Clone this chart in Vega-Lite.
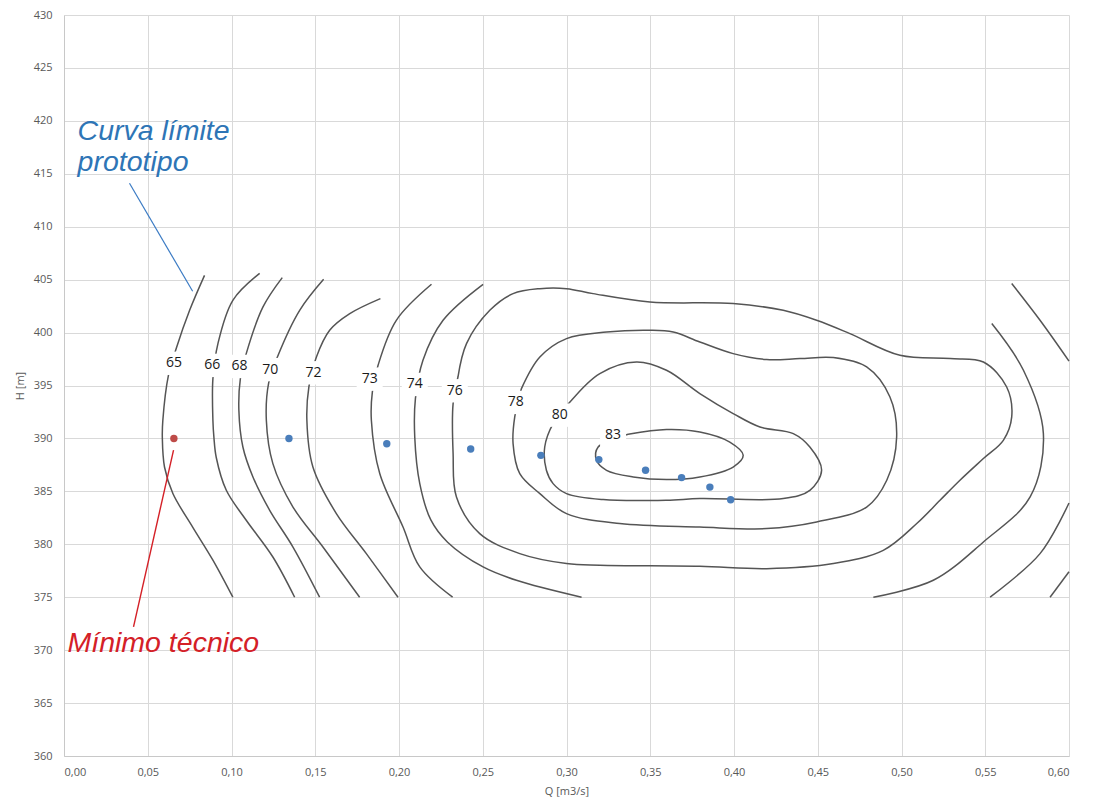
{
  "$schema": "https://vega.github.io/schema/vega-lite/v6.json",
  "width": 1005,
  "height": 741,
  "autosize": {"type": "none"},
  "padding": {"left": 64, "top": 15, "right": 27, "bottom": 47},
  "background": "white",
  "config": {
    "view": {"stroke": null},
    "axis": {
      "gridColor": "#d9d9d9",
      "gridWidth": 1,
      "domainColor": "#c8c8c8",
      "ticks": false,
      "labelColor": "#595959",
      "labelFont": "Open Sans",
      "labelFontSize": 11,
      "titleColor": "#595959",
      "titleFont": "Open Sans",
      "titleFontSize": 11,
      "titleFontWeight": "normal"
    }
  },
  "datasets": {
    "contours": [
      {"c":"65","i":0,"q":0.0839,"h":405.4},{"c":"65","i":1,"q":0.0750,"h":402.1},{"c":"65","i":2,"q":0.0670,"h":398.5},{"c":"65","i":3,"q":0.0624,"h":396.0},{"c":"65","i":4,"q":0.0590,"h":391.7},{"c":"65","i":5,"q":0.0587,"h":390.1},{"c":"65","i":6,"q":0.0600,"h":387.3},{"c":"65","i":7,"q":0.0650,"h":384.8},{"c":"65","i":8,"q":0.0769,"h":381.6},{"c":"65","i":9,"q":0.0889,"h":378.5},{"c":"65","i":10,"q":0.1008,"h":375.0},
      {"c":"66","i":0,"q":0.1168,"h":405.6},{"c":"66","i":1,"q":0.1008,"h":403.05},{"c":"66","i":2,"q":0.0919,"h":398.96},{"c":"66","i":3,"q":0.0889,"h":395.65},{"c":"66","i":4,"q":0.0889,"h":391.7},{"c":"66","i":5,"q":0.0895,"h":390.1},{"c":"66","i":6,"q":0.0909,"h":388.2},{"c":"66","i":7,"q":0.0969,"h":385.1},{"c":"66","i":8,"q":0.1088,"h":382.27},{"c":"66","i":9,"q":0.1247,"h":378.8},{"c":"66","i":10,"q":0.1377,"h":375.0},
      {"c":"68","i":0,"q":0.1303,"h":405.19},{"c":"68","i":1,"q":0.1188,"h":402.42},{"c":"68","i":2,"q":0.1088,"h":398.01},{"c":"68","i":3,"q":0.1053,"h":395.65},{"c":"68","i":4,"q":0.1044,"h":392.66},{"c":"68","i":5,"q":0.1068,"h":389.19},{"c":"68","i":6,"q":0.1128,"h":386.36},{"c":"68","i":7,"q":0.1228,"h":383.21},{"c":"68","i":8,"q":0.1367,"h":379.74},{"c":"68","i":9,"q":0.1526,"h":375.0},
      {"c":"70","i":0,"q":0.1550,"h":405.03},{"c":"70","i":1,"q":0.1407,"h":402.1},{"c":"70","i":2,"q":0.1274,"h":397.69},{"c":"70","i":3,"q":0.1222,"h":395.24},{"c":"70","i":4,"q":0.1208,"h":391.71},{"c":"70","i":5,"q":0.1247,"h":387.62},{"c":"70","i":6,"q":0.1367,"h":383.52},{"c":"70","i":7,"q":0.1546,"h":379.74},{"c":"70","i":8,"q":0.1765,"h":375.0},
      {"c":"72","i":0,"q":0.1889,"h":403.21},{"c":"72","i":1,"q":0.1706,"h":401.79},{"c":"72","i":2,"q":0.1586,"h":400.22},{"c":"72","i":3,"q":0.1507,"h":397.69},{"c":"72","i":4,"q":0.1462,"h":394.86},{"c":"72","i":5,"q":0.1450,"h":391.71},{"c":"72","i":6,"q":0.1486,"h":387.3},{"c":"72","i":7,"q":0.1626,"h":382.9},{"c":"72","i":8,"q":0.1805,"h":379.12},{"c":"72","i":9,"q":0.1994,"h":375.0},
      {"c":"73","i":0,"q":0.2194,"h":404.56},{"c":"73","i":1,"q":0.1984,"h":401.16},{"c":"73","i":2,"q":0.1875,"h":396.91},{"c":"73","i":3,"q":0.1841,"h":394.39},{"c":"73","i":4,"q":0.1835,"h":391.71},{"c":"73","i":5,"q":0.1885,"h":386.68},{"c":"73","i":6,"q":0.2024,"h":381.63},{"c":"73","i":7,"q":0.2124,"h":377.86},{"c":"73","i":8,"q":0.2320,"h":375.0},
      {"c":"74","i":0,"q":0.2502,"h":404.56},{"c":"74","i":1,"q":0.2263,"h":401.16},{"c":"74","i":2,"q":0.2143,"h":397.38},{"c":"74","i":3,"q":0.2098,"h":393.76},{"c":"74","i":4,"q":0.2094,"h":390.14},{"c":"74","i":5,"q":0.2124,"h":385.73},{"c":"74","i":6,"q":0.2190,"h":382.3},{"c":"74","i":7,"q":0.2290,"h":380.2},{"c":"74","i":8,"q":0.2502,"h":377.86},{"c":"74","i":9,"q":0.2701,"h":376.6},{"c":"74","i":10,"q":0.3090,"h":375.0},
      {"c":"76","i":0,"q":0.2352,"h":395.8},{"c":"76","i":1,"q":0.2403,"h":398.96},{"c":"76","i":2,"q":0.2542,"h":402.1},{"c":"76","i":3,"q":0.2681,"h":403.68},{"c":"76","i":4,"q":0.2841,"h":404.15},{"c":"76","i":5,"q":0.3000,"h":404.15},{"c":"76","i":6,"q":0.3159,"h":403.68},{"c":"76","i":7,"q":0.3498,"h":402.89},{"c":"76","i":8,"q":0.3995,"h":402.74},{"c":"76","i":9,"q":0.4294,"h":402.1},{"c":"76","i":10,"q":0.4493,"h":401.16},{"c":"76","i":11,"q":0.4692,"h":399.9},{"c":"76","i":12,"q":0.4991,"h":397.85},{"c":"76","i":13,"q":0.5290,"h":397.54},{"c":"76","i":14,"q":0.5489,"h":397.22},{"c":"76","i":15,"q":0.5628,"h":394.86},{"c":"76","i":16,"q":0.5658,"h":392.03},{"c":"76","i":17,"q":0.5608,"h":389.82},{"c":"76","i":18,"q":0.5489,"h":388.1},{"c":"76","i":19,"q":0.5349,"h":386.05},{"c":"76","i":20,"q":0.5230,"h":384.16},{"c":"76","i":21,"q":0.5091,"h":381.96},{"c":"76","i":22,"q":0.4891,"h":379.43},{"c":"76","i":23,"q":0.4593,"h":378.18},{"c":"76","i":24,"q":0.4195,"h":377.7},{"c":"76","i":25,"q":0.3796,"h":377.92},{"c":"76","i":26,"q":0.3199,"h":378.02},{"c":"76","i":27,"q":0.3000,"h":378.18},{"c":"76","i":28,"q":0.2721,"h":379.12},{"c":"76","i":29,"q":0.2482,"h":381.01},{"c":"76","i":30,"q":0.2343,"h":384.47},{"c":"76","i":31,"q":0.2323,"h":388.57},{"c":"76","i":32,"q":0.2323,"h":393.29},{"c":"76","i":33,"q":0.2352,"h":395.8},
      {"c":"78","i":0,"q":0.2731,"h":394.71},{"c":"78","i":1,"q":0.2841,"h":397.69},{"c":"78","i":2,"q":0.3000,"h":399.43},{"c":"78","i":3,"q":0.3239,"h":400.05},{"c":"78","i":4,"q":0.3498,"h":400.22},{"c":"78","i":5,"q":0.3637,"h":400.05},{"c":"78","i":6,"q":0.3796,"h":399.11},{"c":"78","i":7,"q":0.3995,"h":398.01},{"c":"78","i":8,"q":0.4195,"h":397.45},{"c":"78","i":9,"q":0.4394,"h":397.54},{"c":"78","i":10,"q":0.4593,"h":397.64},{"c":"78","i":11,"q":0.4792,"h":396.75},{"c":"78","i":12,"q":0.4931,"h":393.91},{"c":"78","i":13,"q":0.4971,"h":390.14},{"c":"78","i":14,"q":0.4912,"h":386.05},{"c":"78","i":15,"q":0.4792,"h":383.52},{"c":"78","i":16,"q":0.4493,"h":382.11},{"c":"78","i":17,"q":0.4195,"h":381.48},{"c":"78","i":18,"q":0.3796,"h":381.63},{"c":"78","i":19,"q":0.3318,"h":381.96},{"c":"78","i":20,"q":0.3000,"h":382.9},{"c":"78","i":21,"q":0.2841,"h":384.79},{"c":"78","i":22,"q":0.2721,"h":386.68},{"c":"78","i":23,"q":0.2681,"h":389.51},{"c":"78","i":24,"q":0.2691,"h":392.03},{"c":"78","i":25,"q":0.2731,"h":394.71},
      {"c":"80","i":0,"q":0.3030,"h":393.6},{"c":"80","i":1,"q":0.3199,"h":396.13},{"c":"80","i":2,"q":0.3418,"h":397.22},{"c":"80","i":3,"q":0.3597,"h":396.44},{"c":"80","i":4,"q":0.3796,"h":394.24},{"c":"80","i":5,"q":0.3995,"h":392.35},{"c":"80","i":6,"q":0.4155,"h":391.08},{"c":"80","i":7,"q":0.4354,"h":390.46},{"c":"80","i":8,"q":0.4453,"h":389.19},{"c":"80","i":9,"q":0.4523,"h":386.99},{"c":"80","i":10,"q":0.4453,"h":385.1},{"c":"80","i":11,"q":0.4294,"h":384.32},{"c":"80","i":12,"q":0.3796,"h":384.32},{"c":"80","i":13,"q":0.3597,"h":384.16},{"c":"80","i":14,"q":0.3219,"h":384.22},{"c":"80","i":15,"q":0.3000,"h":384.79},{"c":"80","i":16,"q":0.2920,"h":385.73},{"c":"80","i":17,"q":0.2880,"h":386.99},{"c":"80","i":18,"q":0.2870,"h":389.19},{"c":"80","i":19,"q":0.2920,"h":391.4},{"c":"80","i":20,"q":0.3030,"h":393.6},
      {"c":"83","i":0,"q":0.3368,"h":390.39},{"c":"83","i":1,"q":0.3597,"h":390.84},{"c":"83","i":2,"q":0.3796,"h":390.61},{"c":"83","i":3,"q":0.3975,"h":389.66},{"c":"83","i":4,"q":0.4055,"h":388.41},{"c":"83","i":5,"q":0.3995,"h":387.3},{"c":"83","i":6,"q":0.3796,"h":386.36},{"c":"83","i":7,"q":0.3597,"h":386.11},{"c":"83","i":8,"q":0.3398,"h":386.36},{"c":"83","i":9,"q":0.3239,"h":386.99},{"c":"83","i":10,"q":0.3179,"h":387.93},{"c":"83","i":11,"q":0.3189,"h":389.19},{"c":"83","i":12,"q":0.3368,"h":390.39},
      {"c":"R1","i":0,"q":0.5658,"h":404.63},{"c":"R1","i":1,"q":0.5827,"h":401.16},{"c":"R1","i":2,"q":0.6000,"h":397.3},
      {"c":"R2","i":0,"q":0.5539,"h":400.85},{"c":"R2","i":1,"q":0.5728,"h":396.44},{"c":"R2","i":2,"q":0.5847,"h":390.46},{"c":"R2","i":3,"q":0.5768,"h":384.47},{"c":"R2","i":4,"q":0.5489,"h":380.22},{"c":"R2","i":5,"q":0.5190,"h":376.6},{"c":"R2","i":6,"q":0.4832,"h":375.0},
      {"c":"R3","i":0,"q":0.6000,"h":383.9},{"c":"R3","i":1,"q":0.5827,"h":379.12},{"c":"R3","i":2,"q":0.5529,"h":375.0},
      {"c":"R4","i":0,"q":0.6000,"h":377.4},{"c":"R4","i":1,"q":0.5887,"h":375.0}
    ],
    "labels": [
      {"t":"65","q":0.0656,"h":397.1},{"t":"66","q":0.0885,"h":396.9},{"t":"68","q":0.1048,"h":396.8},{"t":"70","q":0.1232,"h":396.5},{"t":"72","q":0.149,"h":396.2},{"t":"73","q":0.1825,"h":395.6},{"t":"74","q":0.2094,"h":395.1},{"t":"76","q":0.2333,"h":394.5},{"t":"78","q":0.2697,"h":393.4},{"t":"80","q":0.296,"h":392.2},{"t":"83","q":0.3278,"h":390.3}
    ],
    "blue": [
      {"q":0.1343,"h":390.0},{"q":0.1927,"h":389.5},{"q":0.2428,"h":389.0},{"q":0.2847,"h":388.4},{"q":0.3193,"h":388.0},{"q":0.3472,"h":387.0},{"q":0.3687,"h":386.3},{"q":0.3856,"h":385.4},{"q":0.3980,"h":384.2}
    ],
    "red": [{"q":0.0656,"h":390.0}],
    "blueline": [{"i":0,"q":0.0391,"h":414.1},{"i":1,"q":0.0768,"h":403.9}],
    "redline": [{"i":0,"q":0.0654,"h":388.9},{"i":1,"q":0.0415,"h":372.2}],
    "bluetext": [{"t":"Curva límite","q":0.0081,"h":418.2},{"t":"prototipo","q":0.0081,"h":415.26}],
    "redtext": [{"t":"Mínimo técnico","q":0.0021,"h":369.8}]
  },
  "encoding": {
    "x": {
      "field": "q", "type": "quantitative",
      "scale": {"domain": [0, 0.6], "nice": false, "zero": false},
      "axis": {
        "values": [0,0.05,0.1,0.15,0.2,0.25,0.3,0.35,0.4,0.45,0.5,0.55,0.6],
        "labelExpr": "replace(format(datum.value, '.2f'), '.', ',')",
        "labelPadding": 10, "titlePadding": 8, "grid": true
      },
      "title": "Q [m3/s]"
    },
    "y": {
      "field": "h", "type": "quantitative",
      "scale": {"domain": [360, 430], "nice": false, "zero": false},
      "axis": {
        "values": [360,365,370,375,380,385,390,395,400,405,410,415,420,425,430],
        "labelPadding": 12, "titlePadding": 8, "grid": true
      },
      "title": "H [m]"
    }
  },
  "layer": [
    {
      "data": {"name": "contours"},
      "mark": {"type": "line", "color": "#555555", "strokeWidth": 1.5, "interpolate": "catmull-rom"},
      "encoding": {"detail": {"field": "c"}, "order": {"field": "i", "type": "quantitative"}}
    },
    {
      "data": {"name": "blueline"},
      "mark": {"type": "line", "color": "#3B7BC4", "strokeWidth": 1.2},
      "encoding": {"order": {"field": "i", "type": "quantitative"}}
    },
    {
      "data": {"name": "redline"},
      "mark": {"type": "line", "color": "#D42027", "strokeWidth": 1.4},
      "encoding": {"order": {"field": "i", "type": "quantitative"}}
    },
    {
      "data": {"name": "labels"},
      "mark": {"type": "point", "shape": "M-1,-0.9L1,-0.9L1,0.9L-1,0.9Z", "filled": true, "color": "white", "opacity": 1, "size": 676}
    },
    {
      "data": {"name": "labels"},
      "mark": {"type": "text", "font": "Open Sans", "fontSize": 14, "color": "#1a1a1a", "align": "center", "baseline": "middle"},
      "encoding": {"text": {"field": "t"}}
    },
    {
      "data": {"name": "blue"},
      "mark": {"type": "point", "filled": true, "color": "#4A7EBB", "opacity": 1, "size": 55}
    },
    {
      "data": {"name": "red"},
      "mark": {"type": "point", "filled": true, "color": "#BE4B48", "opacity": 1, "size": 55}
    },
    {
      "data": {"name": "bluetext"},
      "mark": {"type": "text", "font": "Liberation Sans", "fontSize": 28.5, "fontStyle": "italic", "color": "#2E75B6", "align": "left", "baseline": "alphabetic"},
      "encoding": {"text": {"field": "t"}}
    },
    {
      "data": {"name": "redtext"},
      "mark": {"type": "text", "font": "Liberation Sans", "fontSize": 28.5, "fontStyle": "italic", "color": "#D42027", "align": "left", "baseline": "alphabetic"},
      "encoding": {"text": {"field": "t"}}
    }
  ]
}
